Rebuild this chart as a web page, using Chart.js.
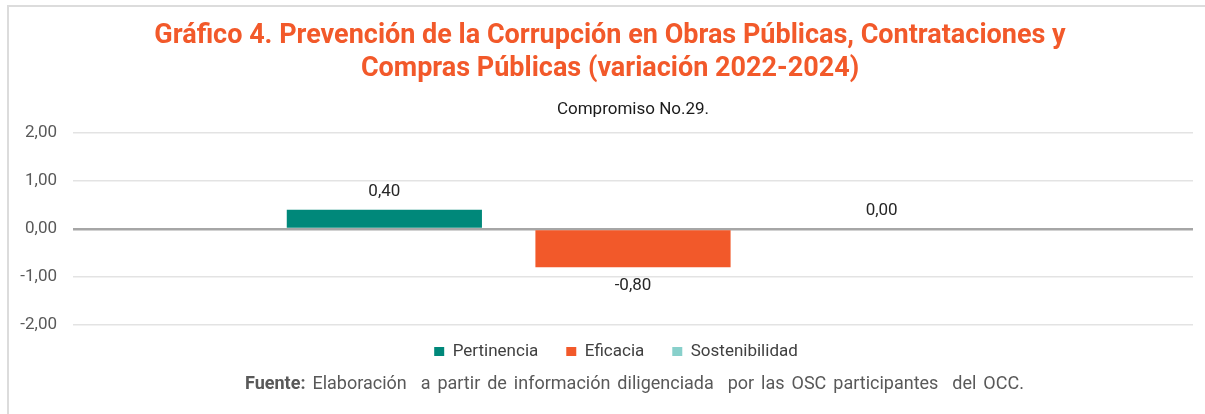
<!DOCTYPE html>
<html lang="es">
<head>
<meta charset="utf-8">
<script src="https://cdn.jsdelivr.net/npm/chart.js@4.4.1/dist/chart.umd.min.js"></script>
<style>
    body { margin: 0; background: #fff; font-family: Roboto, sans-serif; }
    #frame { position: absolute; left: 7px; top: 5px; width: 1198px; height: 409px;
        border-left: 2px solid #dcdcdc; border-top: 2px solid #dcdcdc; box-sizing: border-box; }
    #wrap { position: absolute; left: 0; top: 0; width: 1205px; height: 382px; }
    #sub { position: absolute; top: 98px; left: 73px; width: 1120px; text-align: center;
        font-size: 17px; line-height: 20px; color: #1a1a1a; }
    #src { position: absolute; top: 373px; left: 245px; white-space: nowrap;
        font-size: 18px; line-height: 20px; color: #595959; word-spacing: 2.5px; }
    #src b { font-weight: 700; }
</style>
</head>
<body>
<div id="frame"></div>
<div id="wrap"><canvas id="chrtCompromiso"></canvas></div>
<div id="sub">Compromiso No.29.</div>
<div id="src"><b>Fuente:</b> Elaboración &nbsp;a partir de información diligenciada &nbsp;por las OSC participantes &nbsp;del OCC.</div>
<script>
((d) => {
    const CHRT = d.getElementById("chrtCompromiso")

    // datos
    const categories = [""];
    const seriesNames = ["Pertinencia", "Eficacia", "Sostenibilidad"];
    const seriesValues = [[0.40], [-0.80], [0.00]];
    const seriesColors = ["#00887A", "#F2592A", "#88D0CB"];
    const yTicks = [-2, -1, 0, 1, 2];

    const fmt = v => v.toFixed(2).replace(".", ",");

    // etiquetas de valor encima / debajo de cada barra
    const valueLabels = {
        id: "valueLabels",
        afterDatasetsDraw(chart) {
            const ctx = chart.ctx;
            ctx.save();
            ctx.font = "17px Roboto";
            ctx.fillStyle = "#262626";
            ctx.textAlign = "center";
            ctx.textBaseline = "middle";
            chart.data.datasets.forEach((ds, i) => {
                const meta = chart.getDatasetMeta(i);
                meta.data.forEach((bar, j) => {
                    const v = ds.data[j];
                    const y = v >= 0 ? bar.y - 18 : bar.y + 18;
                    ctx.fillText(fmt(v), bar.x, y);
                });
            });
            ctx.restore();
        }
    }

    const chart = new Chart(CHRT, {
        type: "bar",
        data: {
            labels: categories,
            datasets: seriesNames.map((name, i) => ({
                label: name,
                data: seriesValues[i],
                backgroundColor: seriesColors[i],
                borderWidth: 0,
                categoryPercentage: 0.666,
                barPercentage: 0.785
            }))
        },
        options: {
            responsive: true,
            maintainAspectRatio: false,
            animation: false,
            layout: { padding: { left: 17, right: 12, top: 0, bottom: 2 } },
            plugins: {
                title: {
                    display: true,
                    text: ["Gráfico 4. Prevención de la Corrupción en Obras Públicas, Contrataciones y",
                        "Compras Públicas (variación 2022-2024)"],
                    color: "#F2592A",
                    font: { family: "Roboto", size: 27, weight: "bold", lineHeight: 1.22 },
                    padding: { top: 20, bottom: 47 }
                },
                legend: {
                    position: "bottom",
                    labels: {
                        boxWidth: 10,
                        boxHeight: 9,
                        padding: 28,
                        color: "#404040",
                        font: { family: "Roboto", size: 17 }
                    }
                },
                tooltip: { enabled: false }
            },
            scales: {
                x: { display: false },
                y: {
                    min: -2,
                    max: 2,
                    afterFit(axis) { axis.width = 56; },
                    afterBuildTicks(axis) { axis.ticks = yTicks.map(v => ({ value: v })); },
                    border: { display: false },
                    grid: {
                        drawTicks: false,
                        color: c => c.tick && c.tick.value === 0 ? "#a6a6a6" : "#e3e3e3",
                        lineWidth: c => c.tick && c.tick.value === 0 ? 2.5 : 1.5
                    },
                    ticks: {
                        padding: 16,
                        color: "#595959",
                        font: { family: "Roboto", size: 17 },
                        callback: v => fmt(v)
                    }
                }
            }
        },
        plugins: [valueLabels]
    });

    // correr un poco titulo y leyenda, como en el original
    function nudge(box, dx, dy) {
        const draw = box.draw.bind(box);
        box.draw = function () {
            chart.ctx.save();
            chart.ctx.translate(dx, dy);
            draw();
            chart.ctx.restore();
        };
    }
    nudge(chart.titleBlock, 5, 0);
    nudge(chart.legend, 11, -10);
    chart.update();
})(document)
</script>
</body>
</html>
